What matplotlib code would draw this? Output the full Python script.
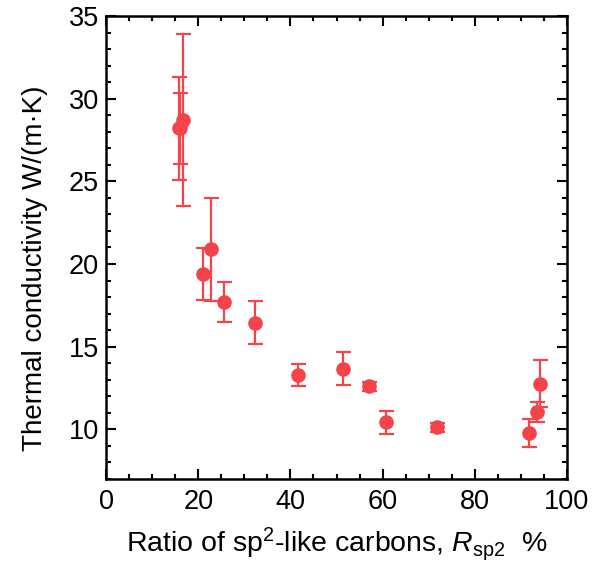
import matplotlib
matplotlib.use("Agg")
import matplotlib.pyplot as plt
from matplotlib.ticker import MultipleLocator

plt.rcParams['font.family'] = ['Liberation Sans', 'DejaVu Sans']
plt.rcParams['mathtext.fontset'] = 'custom'
plt.rcParams['mathtext.rm'] = 'Liberation Sans'
plt.rcParams['mathtext.it'] = 'Liberation Sans:italic'

# Data
rsp2 = [15.8, 16.0, 16.6, 21.1, 22.8, 25.7, 32.3, 41.7, 51.5, 57.1, 60.7, 71.8, 91.8, 93.4, 94.1]
kappa = [28.2, 28.2, 28.7, 19.4, 20.9, 17.7, 16.45, 13.3, 13.67, 12.6, 10.42, 10.13, 9.78, 11.05, 12.77]
kerr = [3.1, 2.15, 5.2, 1.58, 3.12, 1.22, 1.3, 0.66, 1.0, 0.28, 0.7, 0.28, 0.86, 0.6, 1.41]

xticks = [0, 20, 40, 60, 80, 100]
yticks = [10, 15, 20, 25, 30, 35]

red = '#F4434A'

fig = plt.figure(figsize=(5.94, 5.78), dpi=100)
ax = fig.add_axes([0.1785, 0.1713, 0.776, 0.801])

ax.errorbar(rsp2, kappa, yerr=kerr, fmt='o', color=red, ecolor=red,
            markersize=9.5, elinewidth=1.6, capsize=5.4, capthick=1.6, zorder=3)

ax.set_xlim(0, 100)
ax.set_ylim(7, 35)
ax.set_xticks(xticks)
ax.set_yticks(yticks)
ax.xaxis.set_minor_locator(MultipleLocator(5))
ax.yaxis.set_minor_locator(MultipleLocator(1))
ax.tick_params(which='both', direction='in', top=True, right=True, width=1.5,
               labelsize=19.5, colors='black')
ax.tick_params(which='major', length=7)
ax.tick_params(axis='x', which='major', pad=7)
ax.tick_params(axis='y', which='major', pad=5)
ax.tick_params(which='minor', length=3.8)
for s in ax.spines.values():
    s.set_linewidth(1.8)

ax.set_xlabel(r'Ratio of sp$^{2}$-like carbons, $R_{\mathrm{sp2}}$  %', fontsize=20.5, labelpad=8)
ax.set_ylabel('Thermal conductivity W/(m·K)', fontsize=20)
ax.yaxis.set_label_coords(-0.125, 0.455)

fig.savefig('out.png', dpi=100)
